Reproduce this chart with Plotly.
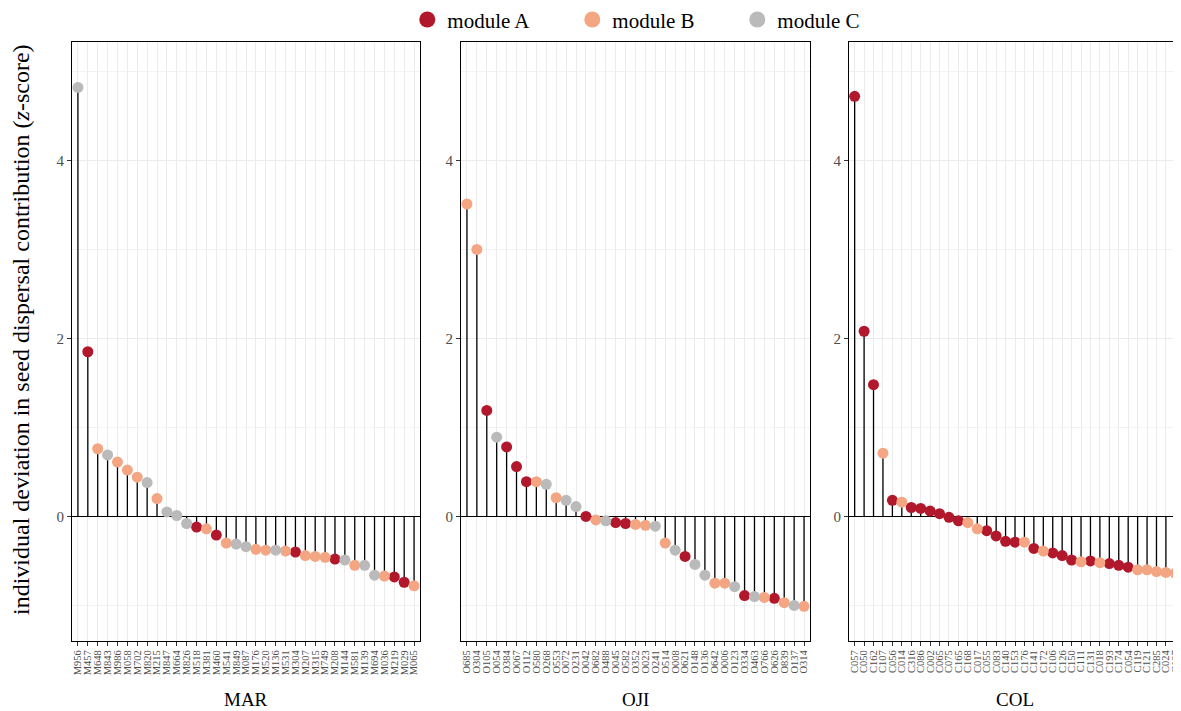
import plotly.graph_objects as go

# ---------------- data ----------------
mar_ids = ["M956", "M457", "M648", "M843", "M986", "M058", "M702", "M820", "M215", "M847",
           "M664", "M826", "M518", "M381", "M460", "M541", "M849", "M087", "M176", "M520",
           "M136", "M531", "M304", "M207", "M315", "M749", "M208", "M144", "M581", "M139",
           "M694", "M036", "M219", "M029", "M065"]
mar_vals = [4.82, 1.85, 0.76, 0.69, 0.61, 0.52, 0.44, 0.38, 0.20, 0.05,
            0.01, -0.08, -0.12, -0.14, -0.21, -0.30, -0.31, -0.34, -0.37, -0.38,
            -0.38, -0.39, -0.40, -0.44, -0.45, -0.46, -0.48, -0.49, -0.55, -0.55,
            -0.66, -0.67, -0.68, -0.74, -0.78]
mar_mod = ["C", "A", "B", "C", "B", "B", "B", "C", "B", "C",
           "C", "C", "A", "B", "A", "B", "C", "C", "B", "B",
           "C", "B", "A", "B", "B", "B", "A", "C", "B", "C",
           "C", "B", "A", "A", "B"]

oji_ids = ["O685", "O304", "O105", "O054", "O384", "O067", "O112", "O580", "O268", "O553",
           "O072", "O231", "O042", "O682", "O488", "O045", "O582", "O352", "O023", "O241",
           "O514", "O008", "O621", "O148", "O136", "O642", "O006", "O123", "O334", "O463",
           "O766", "O626", "O839", "O137", "O314"]
oji_vals = [3.51, 3.00, 1.19, 0.89, 0.78, 0.56, 0.39, 0.39, 0.36, 0.21,
            0.18, 0.11, 0.00, -0.04, -0.05, -0.07, -0.08, -0.09, -0.10, -0.11,
            -0.30, -0.38, -0.45, -0.54, -0.66, -0.75, -0.75, -0.79, -0.89, -0.90,
            -0.91, -0.92, -0.97, -1.00, -1.01]
oji_mod = ["B", "B", "A", "C", "A", "A", "A", "B", "C", "B",
           "C", "C", "A", "B", "C", "A", "A", "B", "B", "C",
           "B", "C", "A", "C", "C", "B", "B", "C", "A", "C",
           "B", "A", "B", "C", "B"]

col_ids = ["C057", "C050", "C162", "C107", "C056", "C014", "C316", "C086", "C002", "C065",
           "C075", "C165", "C168", "C017", "C055", "C083", "C140", "C153", "C176", "C141",
           "C172", "C106", "C126", "C150", "C111", "C131", "C018", "C193", "C174", "C054",
           "C119", "C121", "C285", "C024", "C197"]
col_vals = [4.72, 2.08, 1.48, 0.71, 0.18, 0.16, 0.10, 0.09, 0.06, 0.03,
            -0.01, -0.05, -0.07, -0.14, -0.16, -0.22, -0.28, -0.29, -0.29, -0.36,
            -0.39, -0.41, -0.44, -0.49, -0.51, -0.50, -0.52, -0.53, -0.55, -0.57,
            -0.60, -0.60, -0.62, -0.63, -0.64]
col_mod = ["A", "A", "A", "B", "A", "B", "A", "A", "A", "A",
           "A", "A", "B", "B", "A", "A", "A", "A", "B", "A",
           "B", "A", "A", "A", "B", "A", "B", "A", "A", "A",
           "B", "B", "B", "B", "B"]

sites = ["MAR", "OJI", "COL"]
modules = ["A", "B", "C"]
module_names = {"A": "module A", "B": "module B", "C": "module C"}
module_colors = {"A": "#B2182B", "B": "#F4A582", "C": "#BABABA"}

panels = [(mar_ids, mar_vals, mar_mod), (oji_ids, oji_vals, oji_mod), (col_ids, col_vals, col_mod)]

# ---------------- layout geometry ----------------
# The page body has an 8px margin, so the figure is laid out in page pixels minus 8.
OFF = 8
W, H = 1181 - OFF, 711 - OFF
x_px = [(72, 420), (461, 810), (849, 1181)]   # page pixels
y_px = (42, 641)
y_range = [-1.40, 5.33]
FONT = "Liberation Serif"


def fx(px):
    return (px - OFF) / W


def fy(py):
    return 1 - (py - OFF) / H


fig = go.Figure()

for i, (ids, vals, mods) in enumerate(panels):
    ax = "" if i == 0 else str(i + 1)
    xs, ys = [], []
    for c, v in zip(ids, vals):
        xs += [c, c, None]
        ys += [0, v, None]
    fig.add_trace(go.Scatter(x=xs, y=ys, mode="lines", line=dict(color="black", width=1.3),
                             showlegend=False, hoverinfo="skip",
                             xaxis="x" + ax, yaxis="y" + ax))
    for m in modules:
        mx = [c for c, mm in zip(ids, mods) if mm == m]
        my = [v for v, mm in zip(vals, mods) if mm == m]
        fig.add_trace(go.Scatter(x=mx, y=my, mode="markers",
                                 marker=dict(color=module_colors[m], size=11),
                                 name=module_names[m], legendgroup=m,
                                 showlegend=False,
                                 xaxis="x" + ax, yaxis="y" + ax))

# legend-only entries (larger keys, like the reference)
for m in modules:
    fig.add_trace(go.Scatter(x=[None], y=[None], mode="markers",
                             marker=dict(color=module_colors[m], size=20),
                             name=module_names[m], legendgroup=m, showlegend=True))

layout = dict(
    width=W, height=H,
    margin=dict(l=0, r=0, t=0, b=0, autoexpand=False),
    paper_bgcolor="white", plot_bgcolor="white",
    font=dict(family=FONT, color="black"),
    showlegend=True,
    legend=dict(orientation="h", x=0.5514, xanchor="center", y=1.0123, yanchor="top",
                font=dict(size=21, family=FONT), itemsizing="trace",
                entrywidth=120, entrywidthmode="pixels", bgcolor="rgba(0,0,0,0)"),
)

for i, (ids, vals, mods) in enumerate(panels):
    ax = "" if i == 0 else str(i + 1)
    x0, x1 = x_px[i]
    layout["xaxis" + ax] = dict(
        domain=[fx(x0), min(1.0, fx(x1))], anchor="y" + ax, automargin=False,
        type="category", categoryorder="array", categoryarray=ids,
        tickmode="array", tickvals=ids, ticktext=ids,
        range=[-0.6, len(ids) - 0.4],
        showgrid=True, gridcolor="#EBEBEB", gridwidth=1.4,
        showline=True, linecolor="black", linewidth=1, mirror=True,
        ticks="outside", ticklen=4, tickcolor="#333333", tickwidth=1,
        tickangle=-90, tickfont=dict(size=10.5, family=FONT, color="#4D4D4D"),
        zeroline=False, fixedrange=True,
    )
    layout["yaxis" + ax] = dict(
        domain=[fy(y_px[1]), fy(y_px[0])], anchor="x" + ax, automargin=False,
        range=y_range, tickmode="array", tickvals=[0, 2, 4], ticktext=["0", "2", "4"],
        showgrid=True, gridcolor="#EBEBEB", gridwidth=1.4,
        minor=dict(tickmode="array", tickvals=[-1, 1, 3, 5], showgrid=True,
                   gridcolor="#F2F2F2", gridwidth=0.8, ticks=""),
        showline=True, linecolor="black", linewidth=1, mirror=True,
        ticks="outside", ticklen=4, tickcolor="#333333", tickwidth=1,
        tickfont=dict(size=15, family=FONT, color="#4D4D4D"),
        zeroline=True, zerolinecolor="black", zerolinewidth=1.2,
        fixedrange=True,
    )

annotations = []
for i, s in enumerate(sites):
    x0, x1 = x_px[i]
    annotations.append(dict(text=s, x=fx((x0 + x1) / 2), y=fy(699), xref="paper", yref="paper",
                            xanchor="center", yanchor="middle", showarrow=False,
                            font=dict(size=19, family=FONT, color="black")))
annotations.append(dict(text="individual deviation in seed dispersal contribution (<i>z</i>-score)",
                        x=fx(21), y=fy(330), xref="paper", yref="paper",
                        xanchor="center", yanchor="middle", textangle=-90, showarrow=False,
                        font=dict(size=24, family=FONT, color="black")))
layout["annotations"] = annotations

fig.update_layout(**layout)
fig.write_html("out.html")
